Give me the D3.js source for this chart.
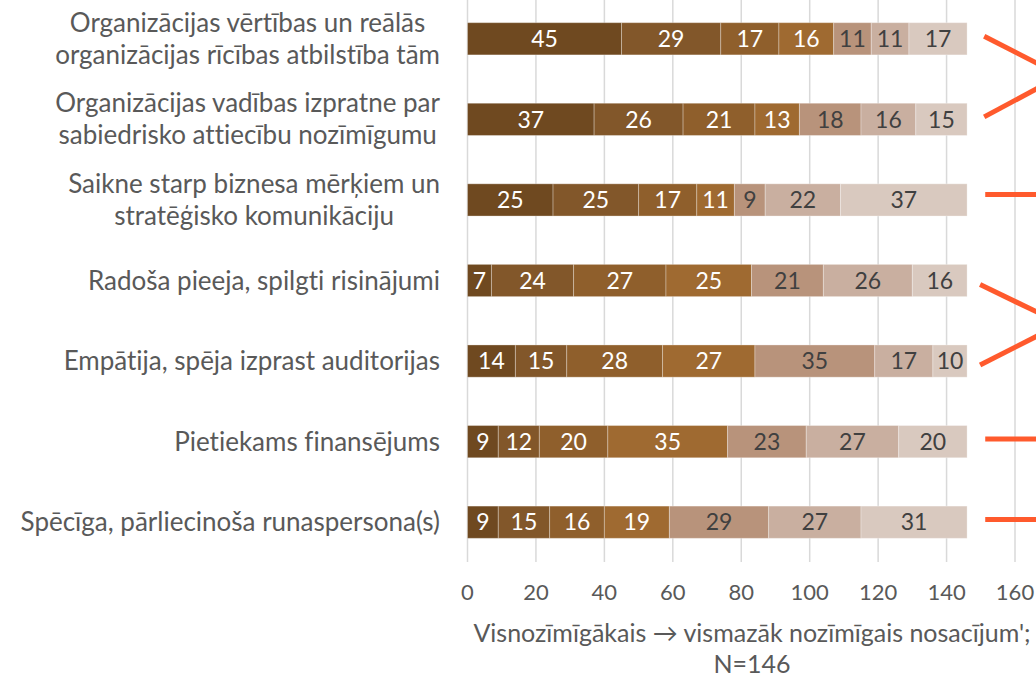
<!DOCTYPE html>
<html>
<head>
<meta charset="utf-8">
<script src="https://cdn.jsdelivr.net/npm/d3@7/dist/d3.min.js"></script>
<style>
  html, body { margin: 0; padding: 0; background: #fff; }
  svg { display: block; }
  text { font-family: Lato, "Open Sans", sans-serif; font-variant-ligatures: none; }
</style>
</head>
<body>
<div id="chart"></div>
<script>
// Factors (top to bottom) and the number of respondents placing each at rank 1..7
const categories = [
  ["Organizācijas vērtības un reālās", "organizācijas rīcības atbilstība tām"],
  ["Organizācijas vadības izpratne par", "sabiedrisko attiecību nozīmīgumu"],
  ["Saikne starp biznesa mērķiem un", "stratēģisko komunikāciju"],
  ["Radoša pieeja, spilgti risinājumi"],
  ["Empātija, spēja izprast auditorijas"],
  ["Pietiekams finansējums"],
  ["Spēcīga, pārliecinoša runaspersona(s)"]
];
const rank1 = [45, 37, 25, 7, 14, 9, 9];
const rank2 = [29, 26, 25, 24, 15, 12, 15];
const rank3 = [17, 21, 17, 27, 28, 20, 16];
const rank4 = [16, 13, 11, 25, 27, 35, 19];
const rank5 = [11, 18, 9, 21, 35, 23, 29];
const rank6 = [11, 16, 22, 26, 17, 27, 27];
const rank7 = [17, 15, 37, 16, 10, 20, 31];
const xTicks = [0, 20, 40, 60, 80, 100, 120, 140, 160];
const axisTitle = ["Visnozīmīgākais \u2192 vismazāk nozīmīgais nosacījum';", "N=146"];

const series = [rank1, rank2, rank3, rank4, rank5, rank6, rank7];
const fills = ["#6f4920", "#82572a", "#8f5f2c", "#9f6a31", "#b8937b", "#c9afa0", "#d9c9bf"];
const labelInk = ["#ffffff", "#ffffff", "#ffffff", "#ffffff", "#404040", "#404040", "#404040"];

const W = 1036, H = 677;
const svg = d3.select("#chart").append("svg").attr("width", W).attr("height", H);

const x = d3.scaleLinear().domain([0, 160]).range([467.5, 1015]);
const y = d3.scaleBand().domain(d3.range(categories.length)).range([-1.5, 562.5])
  .paddingInner(0.6).paddingOuter(0.3);

// vertical gridlines
svg.append("g").selectAll("line").data(xTicks).join("line")
  .attr("x1", d => x(d)).attr("x2", d => x(d))
  .attr("y1", 0).attr("y2", 562)
  .attr("stroke", "#d9d9d9").attr("stroke-width", 1.5);

// tick labels
svg.append("g").selectAll("text").data(xTicks).join("text")
  .attr("x", d => x(d)).attr("y", 600)
  .attr("text-anchor", "middle")
  .attr("font-size", 22).attr("fill", "#595959")
  .text(d => d);

// stacked segments
const rows = categories.map((c, i) => {
  let acc = 0;
  return series.map((s, k) => {
    const seg = { row: i, k, v: s[i], x0: acc, x1: acc + s[i] };
    acc += s[i];
    return seg;
  });
}).flat();

const segG = svg.append("g");
segG.selectAll("rect").data(rows).join("rect")
  .attr("x", d => x(d.x0)).attr("width", d => x(d.x1) - x(d.x0))
  .attr("y", d => y(d.row)).attr("height", y.bandwidth())
  .attr("fill", d => fills[d.k])
  .attr("stroke", "rgba(255,255,255,0.3)").attr("stroke-width", 1);

segG.selectAll("text").data(rows).join("text")
  .attr("x", d => (x(d.x0) + x(d.x1)) / 2)
  .attr("y", d => y(d.row) + y.bandwidth() / 2)
  .attr("dy", "0.36em")
  .attr("text-anchor", "middle")
  .attr("font-size", 23)
  .attr("fill", d => labelInk[d.k])
  .text(d => d.v);

// category labels, multi-line labels centred on their widest line
const catG = svg.append("g");
categories.forEach((lines, i) => {
  const cy = y(i) + y.bandwidth() / 2;
  const lh = 32;
  const g = catG.append("g");
  const t = g.selectAll("text").data(lines).join("text")
    .attr("y", (d, j) => cy + (j - (lines.length - 1) / 2) * lh)
    .attr("dy", "0.35em")
    .attr("font-size", 26).attr("fill", "#595959")
    .text(d => d);
  const widths = t.nodes().map(n => n.getComputedTextLength());
  const maxW = d3.max(widths);
  t.attr("text-anchor", "middle").attr("x", 440 - maxW / 2);
});

// axis title
svg.append("g").selectAll("text").data(axisTitle).join("text")
  .attr("x", 752).attr("y", (d, j) => 642 + j * 31)
  .attr("text-anchor", "middle")
  .attr("font-size", 25).attr("fill", "#595959")
  .text(d => d);

// connectors at the right edge: pairs joined into a chevron, singles as dashes
const cyOf = i => y(i) + y.bandwidth() / 2;
const ann = svg.append("g").attr("stroke", "#ff5a2d").attr("stroke-width", 5).attr("fill", "none");
[[0, 1, 151, -2.5], [3, 4, 149.8, 4]].forEach(([a, b, sx, off]) => {
  const tipX = x(173.5);
  const tipY = (cyOf(a) + cyOf(b)) / 2 + off - 1;
  ann.append("line").attr("x1", x(sx)).attr("y1", cyOf(a) + off).attr("x2", tipX).attr("y2", tipY);
  ann.append("line").attr("x1", x(sx)).attr("y1", cyOf(b) + off).attr("x2", tipX).attr("y2", tipY);
});
[[2, -5.5], [5, -2.7], [6, -2.7]].forEach(([i, off]) => {
  ann.append("line").attr("x1", x(151.3)).attr("x2", x(175))
    .attr("y1", cyOf(i) + off).attr("y2", cyOf(i) + off);
});
</script>
</body>
</html>
